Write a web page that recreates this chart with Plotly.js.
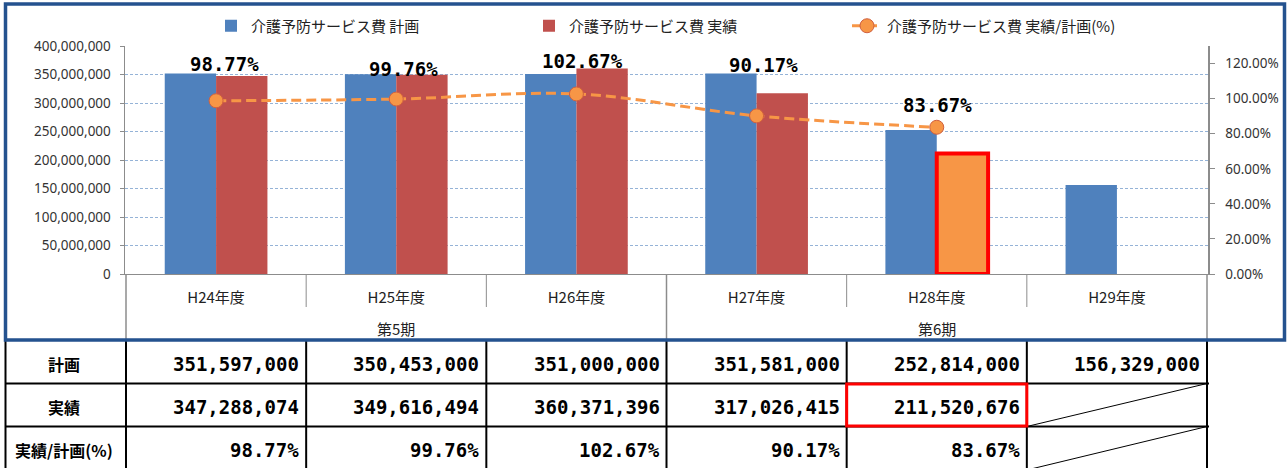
<!DOCTYPE html>
<html><head><meta charset="utf-8">
<script src="https://cdn.plot.ly/plotly-3.0.1.min.js"></script>
<style>html,body{margin:0;padding:0;background:#fff;} #chart{width:1287px;height:468px;}</style>
</head><body><div id="chart"></div>
<script>
// ---- data ----
const years = ['H24年度','H25年度','H26年度','H27年度','H28年度','H29年度'];
const periods = ['第5期','第5期','第5期','第6期','第6期','第6期'];
const planValues = [351597000, 350453000, 351000000, 351581000, 252814000, 156329000];
const actualValues = [347288074, 349616494, 360371396, 317026415, 211520676, null];
const ratioPercent = [98.77, 99.76, 102.67, 90.17, 83.67, null];
const rowLabels = ['計画', '実績', '実績/計画(%)'];
const seriesNames = ['介護予防サービス費 計画', '介護予防サービス費 実績', '介護予防サービス費 実績/計画(%)'];

// ---- layout helpers (positions / styles, not data) ----
const W = 1287, H = 468;
const px = v => v / W;
const py = v => 1 - v / H;
const highlightIndex = 4;
const labelDx = [8, 7, 6, 7, 1];
const labelDy = [37, 30, 33, 51, 22];
const monoBold = {family: 'DejaVu Sans Mono', size: 19, color: '#000', weight: 'bold'};
const cjk = 'Noto Sans CJK JP';

const fmtNum = v => v.toLocaleString('en-US');
const fmtPct = v => v.toFixed(2) + '%';

const traces = [
  {type: 'bar', x: years, y: planValues, name: seriesNames[0],
   marker: {color: '#4F81BD'}, hoverinfo: 'skip'},
  {type: 'bar', x: years, y: actualValues, name: seriesNames[1],
   marker: {
     color: years.map((_, i) => i === highlightIndex ? '#F79646' : '#C0504D'),
     line: {color: years.map((_, i) => i === highlightIndex ? '#FF0000' : 'rgba(0,0,0,0)'),
            width: years.map((_, i) => i === highlightIndex ? 4 : 0)}
   }, hoverinfo: 'skip'},
  {type: 'scatter', mode: 'lines+markers', x: years, y: ratioPercent, yaxis: 'y2',
   name: seriesNames[2], connectgaps: false, cliponaxis: false,
   line: {color: '#F79646', width: 3, dash: '10px,5px', shape: 'spline', smoothing: 1},
   marker: {symbol: 'circle', size: 14, color: '#F79646', line: {color: '#D0603F', width: 1}},
   hoverinfo: 'skip'}
];

const annotations = [];
const shapes = [];

// data labels for ratio line
ratioPercent.forEach((v, i) => {
  if (v === null) return;
  annotations.push({xref: 'x', yref: 'y2', x: i, y: v, text: fmtPct(v), showarrow: false,
    xanchor: 'center', yanchor: 'middle',
    xshift: labelDx[i], yshift: labelDy[i], font: monoBold});
});

// group (period) labels and dividers
const groups = [];
periods.forEach((p, i) => {
  if (i === 0 || p !== periods[i - 1]) groups.push({name: p, start: i, end: i});
  else groups[groups.length - 1].end = i;
});
groups.forEach(g => {
  annotations.push({xref: 'x', yref: 'paper', x: (g.start + g.end) / 2, y: py(328), text: g.name,
    showarrow: false, xanchor: 'center', yanchor: 'middle',
    font: {family: cjk, size: 15, color: '#222'}});
});
const gray = '#8C8C8C';
for (let i = 0; i <= years.length; i++) {
  const isGroupEdge = i === 0 || i === years.length || periods[i] !== periods[i - 1];
  shapes.push({type: 'line', xref: 'x', yref: 'paper', x0: i - 0.5, x1: i - 0.5,
    y0: py(274), y1: py(isGroupEdge ? 340 : 307), line: {color: gray, width: isGroupEdge ? 1.5 : 1}});
}

// ---- table below ----
const rowTops = [340, 383.5, 426.5, 470];
const rowValues = [
  planValues.map(v => v === null ? null : fmtNum(v)),
  actualValues.map(v => v === null ? null : fmtNum(v)),
  ratioPercent.map(v => v === null ? null : fmtPct(v))
];
rowLabels.forEach((lab, r) => {
  const yc = (rowTops[r] + rowTops[r + 1]) / 2 + 2;
  annotations.push({xref: 'paper', yref: 'paper', x: px(64), y: py(yc), text: lab, showarrow: false,
    xanchor: 'center', yanchor: 'middle',
    font: {family: cjk, size: 16, color: '#000', weight: 'bold'}});
  rowValues[r].forEach((t, i) => {
    if (t === null) {
      shapes.push({type: 'line', xref: 'x', yref: 'paper', x0: i - 0.5, x1: i + 0.5,
        y0: py(rowTops[r + 1]), y1: py(rowTops[r]), line: {color: '#000', width: 1}});
      return;
    }
    annotations.push({xref: 'x', yref: 'paper', x: i + 0.5, y: py(yc), text: t, showarrow: false,
      xanchor: 'right', yanchor: 'middle', xshift: -5, font: monoBold});
  });
});
// table grid lines
shapes.push({type: 'line', xref: 'paper', yref: 'paper', x0: px(5.5), x1: px(5.5), y0: py(340), y1: py(470),
  line: {color: '#000', width: 2}});
for (let i = 0; i <= years.length; i++) {
  shapes.push({type: 'line', xref: 'x', yref: 'paper', x0: i - 0.5, x1: i - 0.5, y0: py(340), y1: py(470),
    line: {color: '#000', width: 2}});
}
[383.5, 426.5].forEach(y => shapes.push({type: 'line', xref: 'paper', yref: 'paper',
  x0: px(5), x1: px(1209), y0: py(y), y1: py(y), line: {color: '#000', width: 2}}));
// highlight box around current-year actual
shapes.push({type: 'rect', xref: 'x', yref: 'paper', x0: highlightIndex - 0.5, x1: highlightIndex + 0.5,
  y0: py(426), y1: py(384), line: {color: '#FF0000', width: 3}, fillcolor: 'rgba(0,0,0,0)'});
// outer chart frame
shapes.push({type: 'rect', xref: 'paper', yref: 'paper', x0: px(5.5), x1: px(1284.5), y0: py(340), y1: py(4),
  line: {color: '#24528F', width: 3.5}, fillcolor: 'rgba(0,0,0,0)', layer: 'above'});

const layout = {
  width: W, height: H,
  margin: {l: 0, r: 0, t: 0, b: 0},
  paper_bgcolor: '#fff', plot_bgcolor: '#fff',
  barmode: 'group', bargap: 0.43, bargroupgap: 0,
  showlegend: true,
  legend: {orientation: 'h', x: px(211), xanchor: 'left', y: py(26), yanchor: 'middle',
    entrywidth: 273, entrywidthmode: 'pixels',
    font: {family: cjk, size: 15, color: '#222'}, bgcolor: 'rgba(0,0,0,0)', traceorder: 'normal'},
  xaxis: {domain: [px(125), px(1208)], type: 'category', showline: true, linecolor: gray, linewidth: 1,
    ticks: '', showgrid: false, zeroline: false, ticklabelstandoff: 10,
    tickfont: {family: cjk, size: 15, color: '#222'}, fixedrange: true},
  yaxis: {domain: [py(274), py(46)], range: [0, 400000000], dtick: 50000000, tickformat: ',d',
    showline: true, linecolor: gray, linewidth: 1.5, ticks: 'outside', ticklen: 4, tickcolor: gray,
    showgrid: true, gridcolor: '#95B3D7', griddash: '3px,2px', gridwidth: 1, zeroline: false,
    tickfont: {family: 'Noto Sans', size: 13.5, color: '#333'}, ticklabelstandoff: 6, fixedrange: true},
  yaxis2: {overlaying: 'y', side: 'right', anchor: 'x', range: [0, 130], dtick: 20, tickformat: '.2f',
    ticksuffix: '%', showgrid: false, zeroline: false, showline: true, linecolor: gray, linewidth: 1.5,
    ticks: 'outside', ticklen: 5, tickcolor: gray, ticklabelstandoff: 8,
    tickfont: {family: 'Noto Sans', size: 13.5, color: '#333'}, fixedrange: true},
  annotations: annotations,
  shapes: shapes
};

Plotly.newPlot('chart', traces, layout, {displayModeBar: false, staticPlot: true});
</script>
</body></html>
